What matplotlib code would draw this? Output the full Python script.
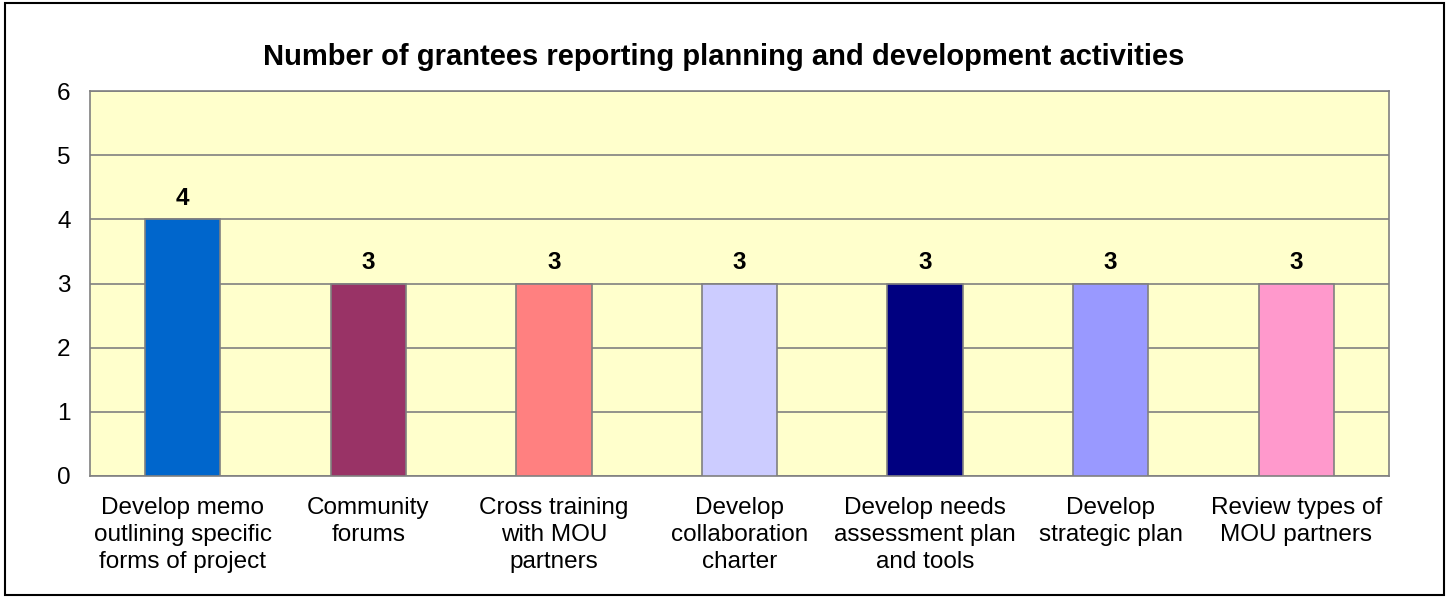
import matplotlib.pyplot as plt
from matplotlib.patches import Rectangle

plt.rcParams['font.family'] = ['Liberation Sans', 'DejaVu Sans']

categories = [
    "Develop memo\noutlining specific\nforms of project",
    "Community\nforums",
    "Cross training\nwith MOU\npartners",
    "Develop\ncollaboration\ncharter",
    "Develop needs\nassessment plan\nand tools",
    "Develop\nstrategic plan",
    "Review types of\nMOU partners",
]
values = [4, 3, 3, 3, 3, 3, 3]
colors = ['#0066CC', '#993366', '#FF8080', '#CCCCFF', '#000080', '#9999FF', '#FF99CC']

fig = plt.figure(figsize=(14.47, 5.98), dpi=100)
ax = fig.add_axes([90 / 1447, 1 - 476 / 598, 1299 / 1447, 385 / 598])

# outer frame around the whole chart
fig.patches.append(Rectangle((5 / 1447, 3 / 598), 1439 / 1447, 592 / 598,
                             transform=fig.transFigure, fill=False,
                             edgecolor='black', linewidth=1.5))

ax.set_facecolor('#FFFFCC')
x = range(len(categories))
bars = ax.bar(x, values, width=0.405, color=colors, edgecolor='#808080',
              linewidth=1.2, zorder=3)

for b, v in zip(bars, values):
    ax.text(b.get_x() + b.get_width() / 2, v + 0.15, str(v), ha='center',
            va='bottom', fontsize=17.5, fontweight='bold')

ax.set_xlim(-0.5, len(categories) - 0.5)
ax.set_ylim(0, 6)
ax.set_yticks(range(7))
ax.yaxis.grid(True, color='#808080', linewidth=1.2, zorder=0)
ax.set_axisbelow(True)
ax.set_xticks(list(x))
ax.set_xticklabels(categories, fontsize=17.5, linespacing=1.3)
ax.tick_params(axis='both', length=0, labelsize=17.5)
ax.tick_params(axis='x', pad=15)
ax.tick_params(axis='y', pad=14)
for s in ax.spines.values():
    s.set_color('#808080')
    s.set_linewidth(1.2)

fig.text(0.5, 1 - 57 / 598, 'Number of grantees reporting planning and development activities',
         ha='center', va='center', fontsize=21, fontweight='bold')

fig.savefig('out.png', dpi=100)
